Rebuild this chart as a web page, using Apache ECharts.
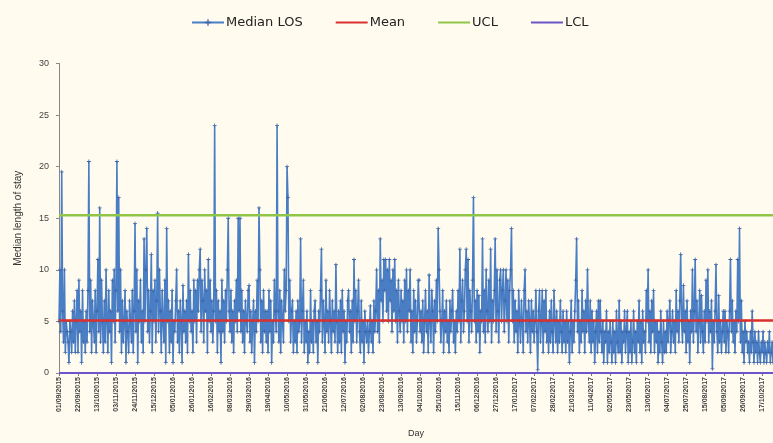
<!DOCTYPE html>
<html>
<head>
<meta charset="utf-8">
<script src="https://cdn.jsdelivr.net/npm/echarts@6/dist/echarts.min.js"></script>
<style>
html,body{margin:0;padding:0;background:#fffbef;}
#chart{width:773px;height:443px;}
</style>
</head>
<body>
<div id="chart"></div>
<script>
// ---- data ----
const START_DATE = [2015, 9, 1];   // 01/09/2015, one value per day
const LABEL_EVERY = 21;            // a date label every 21 days
const MEAN = 5.1;
const UCL = 15.3;
const LCL = 0;
const yTicks = [0, 5, 10, 15, 20, 25, 30];

const medianLOS = [
  5,10,4,19.5,6,3,10,2,5,4,
  3,1,5,4,2,6,3,7,2,5,
  8,2,9,4,6,1,8,3,5,2,
  6,3,8,20.5,4,9,2,7,5,3,
  8,2,6,11,4,16,3,9,5,2,
  7,3,10,5,2,8,4,6,1,9,
  5,10,3,8,20.5,6,17,4,10,2,
  7,3,5,8,1,6,4,2,7,5,
  3,8,2,6,14.5,4,10,1,7,5,
  9,3,6,2,13,5,10,14,4,8,
  3,6,11.5,2,8,5,9,3,7,15.5,
  4,10,6,2,8,5,3,9,1,14,
  5,7,2,6,3,8,1,5,4,7,
  10,3,6,2,7,5,1,8.5,4,6,
  3,7,2,11.5,5,8,4,6,2,9,
  5,8,3,9,6,10,12,4,9,7,
  3,10,6,8,2,11,5,9,4,7,
  3,6,24,5,8,2,7,4,6,1,
  9,4,7,3,8,5,10,15,6,4,
  8,3,6,2,7,5,9,4,15,6,
  15,4,8,3,6,2,7,5,4,8,
  8.5,3,6,2,5,7,1,6,4,9,
  5,16,10,3,7,2,8,4,6,3,
  6,2,8,4,7,1,5,3,9,6,
  4,24,6,3,8,2,7,5,3,10,
  6,8,20,17,5,9,3,6,7,2,
  5,3,6,2,7,4,5,13,3,6,
  9,2,5,3,6,1,4,2,8,3,
  5,2,6,7,3,5,1,6,4,8,
  12,3,7,5,2,9,4,6,3,8,
  5,2,7,4,6,3,10.5,5,2,6,
  3,7,2,8,4,6,1,5,3,7,
  8,4,6,2,7,3,11,5,8,3,
  6,9,4,2,7,3,5,1,6,4,
  3,5,2,4,6.5,3,5,2,7,4,
  6,10,4,8,3,13,7,9,5,11,
  8,11,6,10,5,11,7,9,4,10,
  6,11,5,8,3,9,6,4,8,5,
  7,3,9,5,10,4,8,6,10,3,
  6,2,8,4,7,3,5,9,9,4,
  6,3,7,2,5,8,4,6,2,9.5,
  5,3,8,6,2,7,4,9,5,14,
  10,6,3,5,8,2,6,4,7,3,
  5,2,7,4,6,8,3,5,2,6,
  4,8,5,12,3,7,9,4,6,10,
  12,5,11,3,8,6,4,9,17,5,
  7,3,8,4,7.5,2,6,5,13,4,
  8,3,10,6,4,9,5,12,3,7,
  5,8,13,4,10,6,3,9,10,5,
  8,10,4,7,10,5,9,3,8,10,
  14,5,8,3,7,4,6,2,8,5,
  3,7,5,2,8,10,4,6,3,7,
  5,2,7,4,6,3,5,8,4,0.3,
  6,8,3,5,8,2,7,4,8,3,
  5,2,6,3,7,4,2,8,5,3,
  6,2,5,3,7,4,2,6,3,5,
  2,6,3,5,1,4,7,2,5,3,
  6,9,13,4,7,2,5,3,8,4,
  6,2,7,4,10,5,3,7,2,6,
  3,5,1,4,6,2,7,3,7,4,
  2,5,1,4,3,6,1,4,2,5,
  3,1,5,2,4,1,6,3,2,7,
  2,5,1,4,3,6,2,4,6,1,
  4,2,5,1,3,6,2,4,1,5,
  3,7,2,5,1,6,3,4,2,8,
  5,10,3,6,2,7,4,8,2,5,
  3,5,1,4,2,6,3,1,5,2,
  4,2,6,3,5,7,2,4,6,3,
  5,2,8,4,6,3,7,11.5,5,3,
  8.5,4,6,2,7,3,5,1,6,4,
  10,3,6,11,4,7,2,5,8,3,
  7.5,4,2,6,3,9,5,10,3,6,
  4,7,0.4,5,3,6,10.5,4,2,7.5,
  3,5,2,4,6,3,6,2,5,4,
  2,6,11,4,7,3,5,2,6,4,
  11,5,14,3,7,2,4,1,5,3,
  4,2,3,1,4,2,6,3,1,4,
  2,3,1,4,2,1,3,2,4,1,
  3,2,1,3,2,4,1,2,3,1
];

// day labels dd/mm/yyyy
function pad(n){ return (n < 10 ? '0' : '') + n; }
const days = [];
(function(){
  const d0 = new Date(Date.UTC(START_DATE[0], START_DATE[1]-1, START_DATE[2]));
  for (let i = 0; i < medianLOS.length; i++) {
    const d = new Date(d0.getTime() + i*86400000);
    days.push(pad(d.getUTCDate()) + '/' + pad(d.getUTCMonth()+1) + '/' + d.getUTCFullYear());
  }
})();
const meanLine = days.map(() => MEAN);
const uclLine = days.map(() => UCL);
const lclLine = days.map(() => LCL);

const chart = echarts.init(document.getElementById('chart'), null, {renderer:'canvas'});
const FONT = 'Liberation Sans, Arial, sans-serif';
const CLEAR = 'rgba(0,0,0,0)';
chart.setOption({
  backgroundColor: '#fffbef',
  animation: false,
  legend: {
    top: 11,
    left: 186,
    itemWidth: 32,
    itemHeight: 8,
    itemGap: 32,
    textStyle: {fontFamily: 'DejaVu Sans', fontSize: 13, color: '#222', padding:[0,0,0,-3]},
    data: ['Median LOS', 'Mean', 'UCL', 'LCL']
  },
  grid: {left: 59, right: 0, top: 63.5, bottom: 64, containLabel: false},
  xAxis: {
    type: 'category',
    data: days,
    boundaryGap: false,
    name: 'Day',
    nameLocation: 'middle',
    nameGap: 56,
    nameTextStyle: {fontFamily: FONT, fontSize: 9, color: '#333'},
    axisLine: {lineStyle: {color: '#777', width: 1}},
    axisTick: {show: true, interval: LABEL_EVERY - 1, length: 3, lineStyle: {color: '#777'}},
    axisLabel: {
      interval: LABEL_EVERY - 1,
      rotate: 90,
      fontFamily: FONT,
      fontSize: 7,
      fontWeight: 'bold',
      color: '#444',
      margin: 4
    },
    splitLine: {show: false}
  },
  yAxis: {
    type: 'value',
    min: yTicks[0],
    max: yTicks[yTicks.length-1],
    interval: 5,
    name: 'Median length of stay',
    nameLocation: 'middle',
    nameGap: 36,
    nameTextStyle: {fontFamily: FONT, fontSize: 10, color: '#333'},
    axisLine: {show: true, lineStyle: {color: '#888', width: 1}},
    axisTick: {show: true, length: 3, lineStyle: {color: '#888'}},
    axisLabel: {fontFamily: FONT, fontSize: 9, color: '#444', margin: 10},
    splitLine: {show: false}
  },
  series: [
    {
      name: 'Median LOS',
      type: 'line',
      data: medianLOS,
      symbol: 'path://M4,0H6V4H10V6H6V10H4V6H0V4H4Z',
      symbolSize: 4,
      showAllSymbol: true,
      lineStyle: {color: '#4a7ec4', width: 1.6},
      itemStyle: {color: '#3d64a8'},
      z: 2
    },
    {
      name: 'Mean', type: 'line', data: meanLine, symbol: 'none',
      lineStyle: {color: '#d9312e', width: 2.5}, itemStyle: {color: CLEAR}, z: 3
    },
    {
      name: 'UCL', type: 'line', data: uclLine, symbol: 'none',
      lineStyle: {color: '#8fc548', width: 2.5}, itemStyle: {color: CLEAR}, z: 3
    },
    {
      name: 'LCL', type: 'line', data: lclLine, symbol: 'none',
      lineStyle: {color: '#6a56c8', width: 2}, itemStyle: {color: CLEAR}, z: 3
    }
  ]
});
</script>
</body>
</html>
